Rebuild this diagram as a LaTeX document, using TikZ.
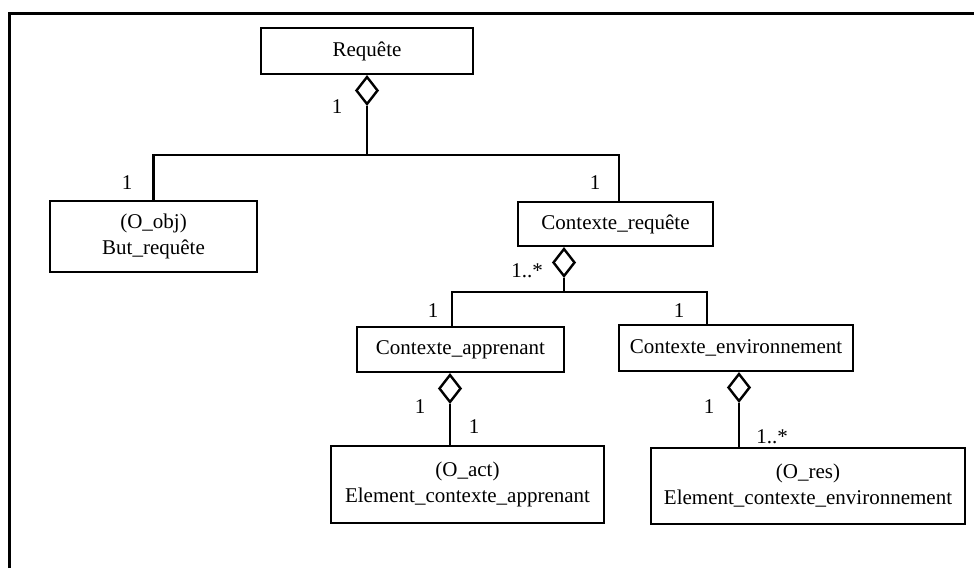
\documentclass[tikz,border=0pt]{standalone}
\usepackage{fontspec}
\setmainfont{Liberation Serif}
\usetikzlibrary{shapes.geometric,positioning}

\begin{document}
\begin{tikzpicture}[
  x=1pt,y=-1pt,
  font=\fontsize{21}{26}\selectfont,
  umlbox/.style={draw,line width=2.6pt,align=center,inner sep=2pt},
  agg/.style={diamond,draw,line width=2.4pt,fill=white,inner sep=0pt,
              minimum width=22pt,minimum height=28pt,anchor=north},
  link/.style={line width=2.6pt},
  mult/.style={inner sep=0pt},
]
\useasboundingbox (0,0) rectangle (974,568);

% ---- frame (only top and left edges show) ----
\draw[line width=3pt] (9,568) -- (9,13) -- (974,13);

% ---- classes ----
\node[umlbox,minimum width=212pt,minimum height=46pt] (requete) at (367,51)
     {Requête};
\node[umlbox,minimum width=207pt,minimum height=71pt] (but) at (153.5,236.5)
     {(O\_obj)\\But\_requête};
\node[umlbox,minimum width=195pt,minimum height=44pt] (ctxreq) at (615.5,224)
     {Contexte\_requête};
\node[umlbox,minimum width=207pt,minimum height=45pt] (ctxapp) at (460.5,349.5)
     {Contexte\_apprenant};
\node[umlbox,minimum width=234pt,minimum height=46pt] (ctxenv) at (736,348)
     {Contexte\_environnement};
\node[umlbox,minimum width=273pt,minimum height=77pt] (eltapp) at (467.5,484.5)
     {(O\_act)\\Element\_contexte\_apprenant};
\node[umlbox,minimum width=314pt,minimum height=76pt] (eltenv) at (808,486)
     {(O\_res)\\Element\_contexte\_environnement};

% ---- aggregation diamonds ----
\node[agg] (dreq) at (requete.south) {};
\node[agg] (dctx) at ([xshift=-51.5pt]ctxreq.south) {};
\node[agg] (dapp) at ([xshift=-10.5pt]ctxapp.south) {};
\node[agg] (denv) at ([xshift=3pt]ctxenv.south) {};

% ---- links ----
\coordinate (bus1) at (367,155);
\coordinate (bus2) at (564,292);

\draw[link] (dreq.south) -- (bus1);
\draw[link] (but.north) |- (bus1) -| ([xshift=3.5pt]ctxreq.north);

\draw[link] (dctx.south) -- (bus2);
\draw[link] ([xshift=-8.5pt]ctxapp.north) |- (bus2) -| ([xshift=-29pt]ctxenv.north);

\draw[link] (dapp.south) -- (dapp.south |- eltapp.north);
\draw[link] (denv.south) -- (denv.south |- eltenv.north);

% ---- multiplicities ----
\node[mult] (m1) at (337,107) {1};
\node[mult] (m2) at (127,183) {1};
\node[mult] (m3) at (595,183) {1};
\node[mult] (m4) at (527,271) {1..*};
\node[mult] (m5) at (433,311) {1};
\node[mult] (m6) at (679,311) {1};
\node[mult] (m7) at (420,407) {1};
\node[mult] (m8) at (474,427) {1};
\node[mult] (m9) at (709,407) {1};
\node[mult] (m10) at (772,437) {1..*};

\end{tikzpicture}
\end{document}
